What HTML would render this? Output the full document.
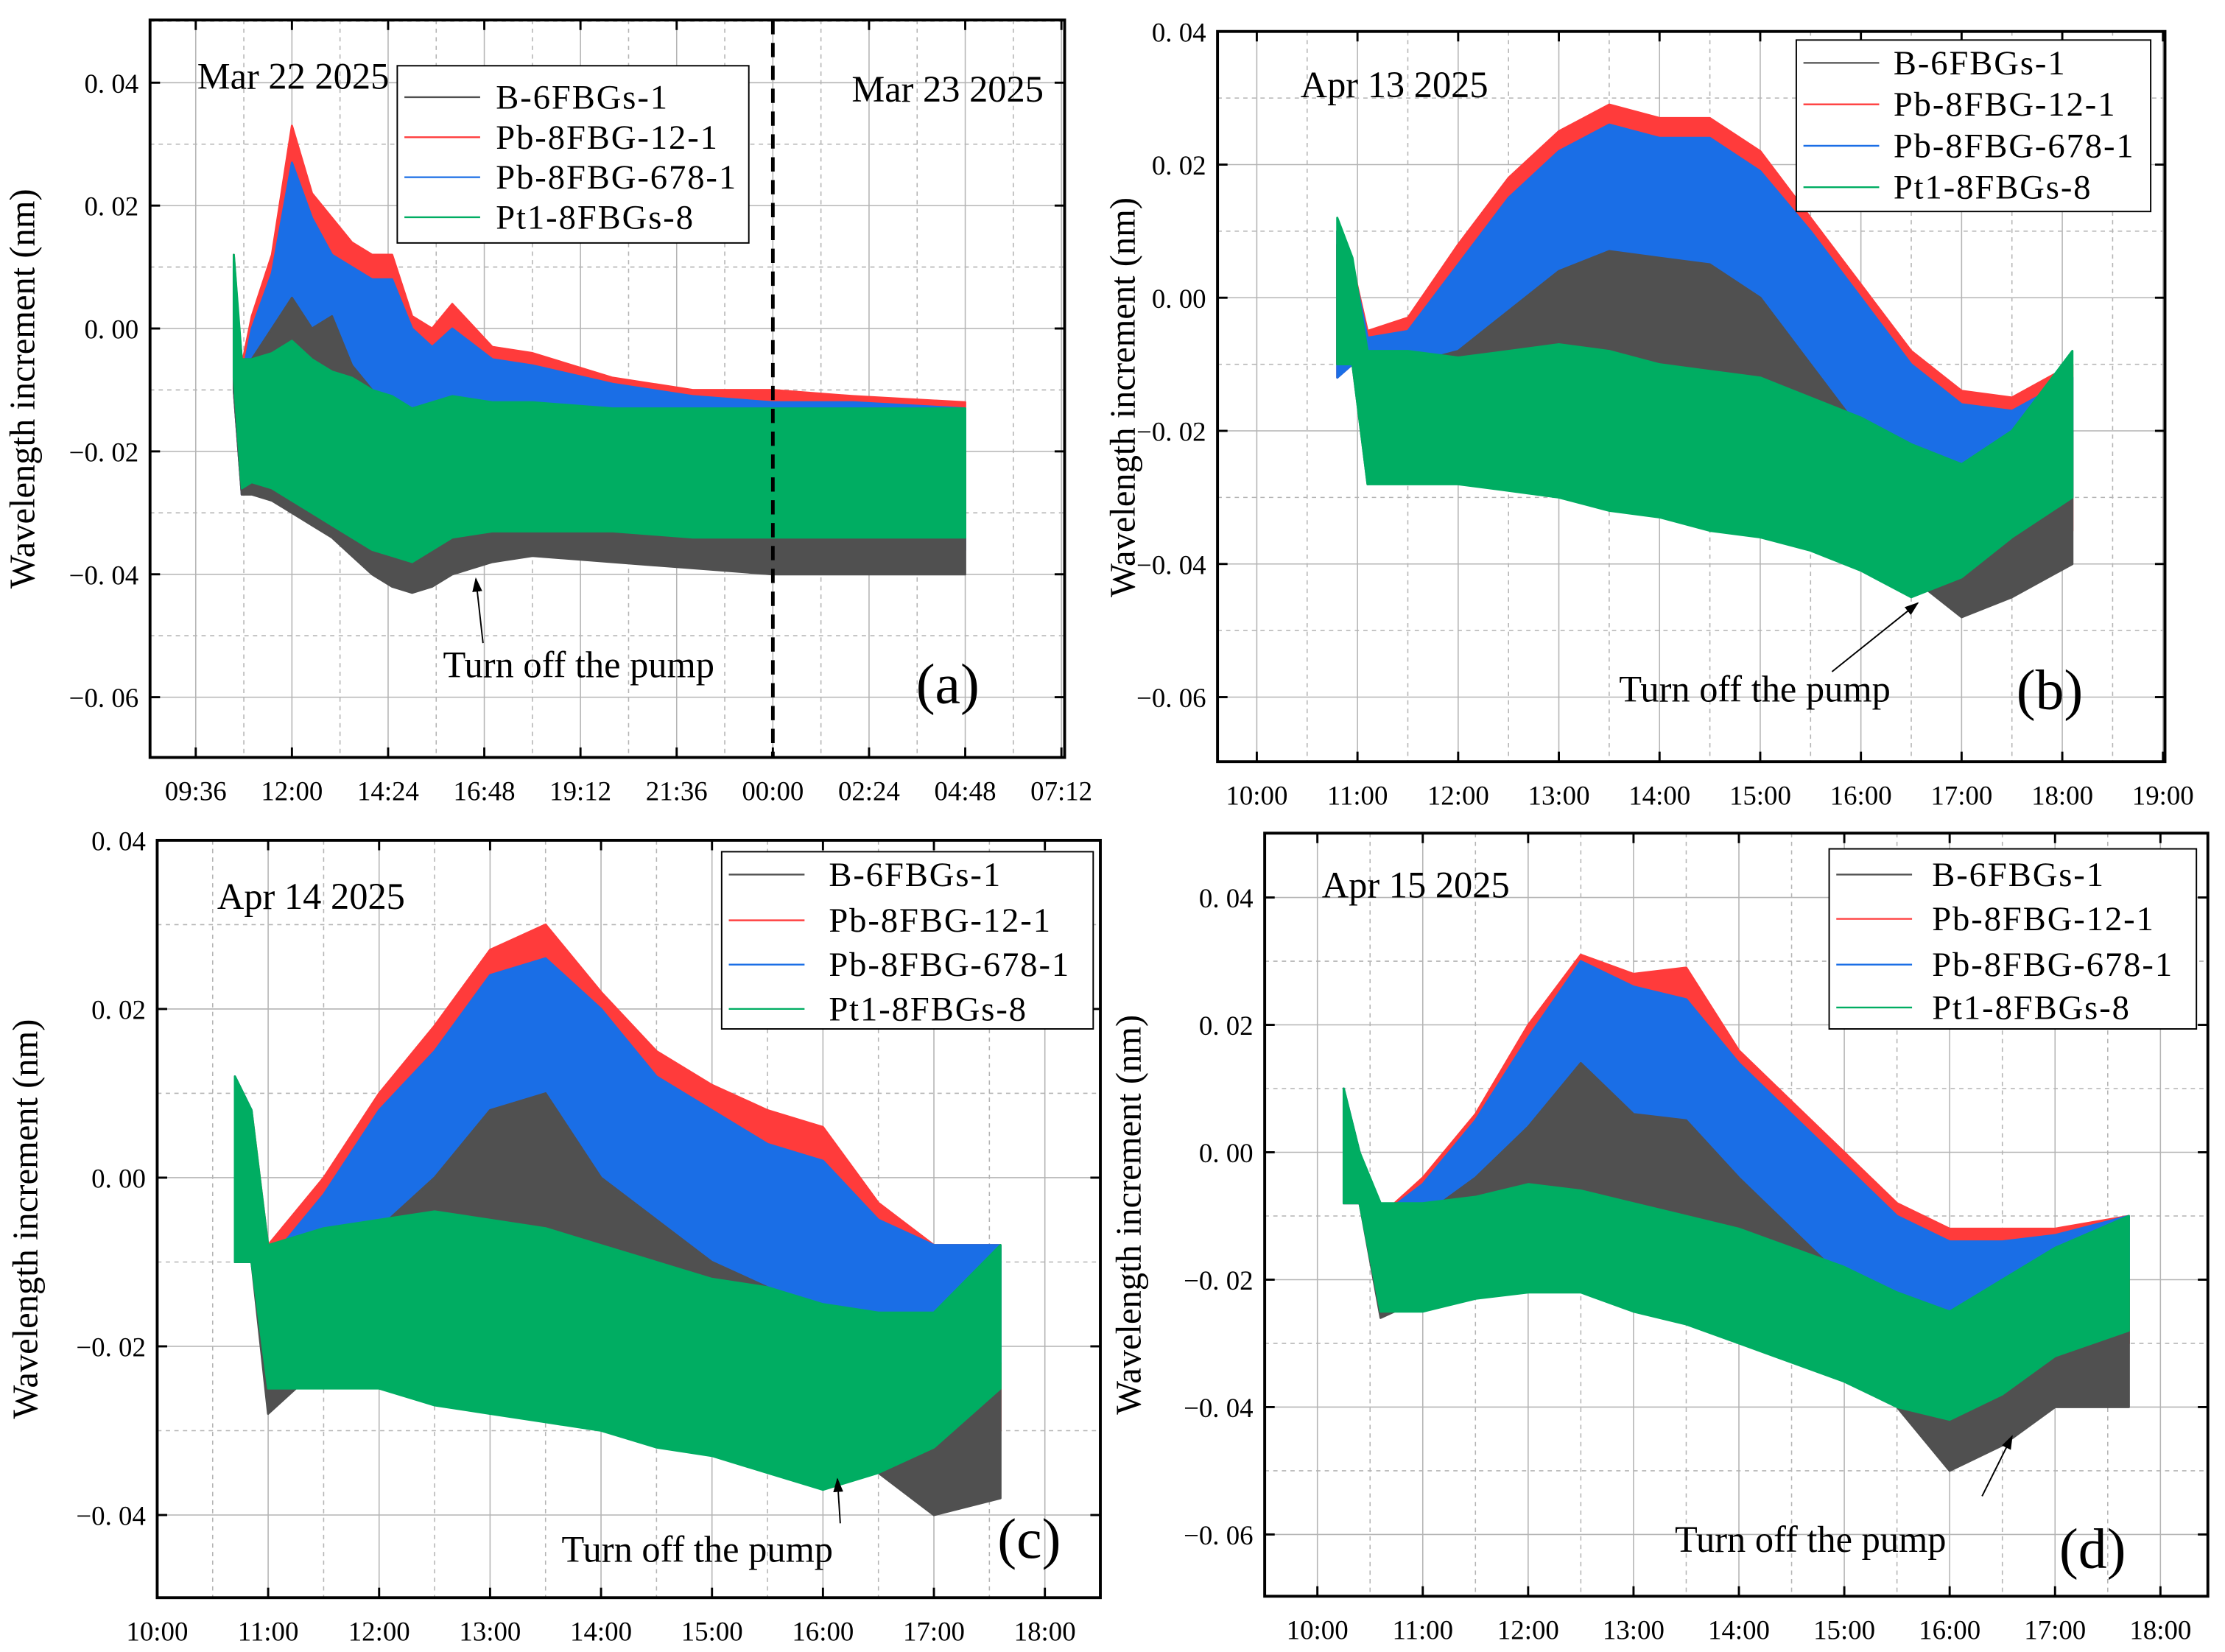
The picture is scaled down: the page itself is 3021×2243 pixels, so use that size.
<!DOCTYPE html>
<html><head><meta charset="utf-8">
<style>
html,body{margin:0;padding:0;background:#fff;}
svg{display:block;}
text{font-family:"Liberation Serif",serif;fill:#000;}
.tick{font-size:19px;}
</style></head>
<body>
<svg id="fig" width="3021" height="2243" viewBox="0 0 1557 1156" xmlns="http://www.w3.org/2000/svg"></svg>
<script>
// ---------- DATA ----------
const seriesNames = ["B-6FBGs-1","Pb-8FBG-12-1","Pb-8FBG-678-1","Pt1-8FBGs-8"];
const seriesColors = ["#505050","#ff3b3b","#1a6ee6","#00ad62"];
const drawOrder = [1,2,0,3];

// Panel (a) hours since Mar 22 00:00
const aTimes = [10.55,10.75,11,11.5,12,12.5,13,13.5,14,14.5,15,15.5,16,17,18,20,22,24,26,28.8];
const aBlackU = [0.01,-0.005,-0.005,0.0,0.005,0.0,0.002,-0.006,-0.01,-0.012,-0.015,-0.015,-0.017,-0.018,-0.018,-0.02,-0.02,-0.02,-0.02,-0.02];
const aBlackL = [-0.01,-0.027,-0.027,-0.028,-0.03,-0.032,-0.034,-0.037,-0.04,-0.042,-0.043,-0.042,-0.04,-0.038,-0.037,-0.038,-0.039,-0.04,-0.04,-0.04];
const aRedU = [0.012,-0.006,0.002,0.012,0.033,0.022,0.018,0.014,0.012,0.012,0.002,0.0,0.004,-0.003,-0.004,-0.008,-0.01,-0.01,-0.011,-0.012];
const aRedL = [-0.01,-0.027,-0.025,-0.025,-0.024,-0.026,-0.027,-0.028,-0.03,-0.032,-0.033,-0.034,-0.034,-0.033,-0.032,-0.033,-0.034,-0.035,-0.035,-0.036];
const aBlueU = [0.011,-0.008,0.0,0.009,0.027,0.018,0.012,0.01,0.008,0.008,0.0,-0.003,0.0,-0.005,-0.006,-0.009,-0.011,-0.012,-0.012,-0.013];
const aBlueL = [-0.01,-0.027,-0.025,-0.025,-0.024,-0.026,-0.027,-0.028,-0.03,-0.032,-0.033,-0.034,-0.034,-0.033,-0.032,-0.033,-0.034,-0.035,-0.035,-0.036];
const aGreenU = [0.012,-0.005,-0.005,-0.004,-0.002,-0.005,-0.007,-0.008,-0.01,-0.011,-0.013,-0.012,-0.011,-0.012,-0.012,-0.013,-0.013,-0.013,-0.013,-0.013];
const aGreenL = [-0.008,-0.026,-0.025,-0.026,-0.028,-0.03,-0.032,-0.034,-0.036,-0.037,-0.038,-0.036,-0.034,-0.033,-0.033,-0.033,-0.034,-0.034,-0.034,-0.034];

// Panel (b)
const bTimes = [10.8,10.95,11.1,11.5,12,12.5,13,13.5,14,14.5,15,15.5,16,16.5,17,17.5,18.1];
const bBlackU = [0.008,0.004,-0.01,-0.01,-0.008,-0.002,0.004,0.007,0.006,0.005,0.0,-0.01,-0.02,-0.025,-0.027,-0.025,-0.02];
const bBlackL = [-0.01,-0.01,-0.028,-0.027,-0.025,-0.022,-0.02,-0.022,-0.022,-0.024,-0.026,-0.03,-0.036,-0.042,-0.048,-0.045,-0.04];
const bRedU = [0.01,0.005,-0.005,-0.003,0.008,0.018,0.025,0.029,0.027,0.027,0.022,0.012,0.002,-0.008,-0.014,-0.015,-0.01];
const bRedL = [-0.012,-0.01,-0.025,-0.022,-0.02,-0.018,-0.016,-0.016,-0.016,-0.018,-0.02,-0.022,-0.025,-0.028,-0.03,-0.032,-0.035];
const bBlueU = [0.01,0.005,-0.006,-0.005,0.005,0.015,0.022,0.026,0.024,0.024,0.019,0.01,0.0,-0.01,-0.016,-0.017,-0.012];
const bBlueL = [-0.012,-0.01,-0.025,-0.022,-0.02,-0.018,-0.016,-0.016,-0.016,-0.018,-0.02,-0.022,-0.025,-0.028,-0.03,-0.031,-0.03];
const bGreenU = [0.012,0.006,-0.008,-0.008,-0.009,-0.008,-0.007,-0.008,-0.01,-0.011,-0.012,-0.015,-0.018,-0.022,-0.025,-0.02,-0.008];
const bGreenL = [-0.01,-0.01,-0.028,-0.028,-0.028,-0.029,-0.03,-0.032,-0.033,-0.035,-0.036,-0.038,-0.041,-0.045,-0.042,-0.036,-0.03];

// Panel (c)
const cTimes = [10.7,10.85,11,11.5,12,12.5,13,13.5,14,14.5,15,15.5,16,16.5,17,17.6];
const cBlackU = [0.01,0.005,-0.015,-0.012,-0.006,0.0,0.008,0.01,0.0,-0.005,-0.01,-0.013,-0.016,-0.02,-0.022,-0.022];
const cBlackL = [-0.01,-0.01,-0.028,-0.022,-0.017,-0.012,-0.01,-0.012,-0.018,-0.022,-0.026,-0.028,-0.031,-0.035,-0.04,-0.038];
const cRedU = [0.012,0.008,-0.008,0.0,0.01,0.018,0.027,0.03,0.022,0.015,0.011,0.008,0.006,-0.003,-0.008,-0.008];
const cRedL = [-0.01,-0.01,-0.024,-0.012,-0.01,-0.008,-0.006,-0.008,-0.01,-0.012,-0.015,-0.017,-0.02,-0.022,-0.024,-0.03];
const cBlueU = [0.012,0.008,-0.01,-0.002,0.008,0.015,0.024,0.026,0.02,0.012,0.008,0.004,0.002,-0.005,-0.008,-0.008];
const cBlueL = [-0.01,-0.01,-0.024,-0.012,-0.01,-0.008,-0.006,-0.008,-0.01,-0.012,-0.015,-0.017,-0.02,-0.022,-0.022,-0.022];
const cGreenU = [0.012,0.008,-0.008,-0.006,-0.005,-0.004,-0.005,-0.006,-0.008,-0.01,-0.012,-0.013,-0.015,-0.016,-0.016,-0.008];
const cGreenL = [-0.01,-0.01,-0.025,-0.025,-0.025,-0.027,-0.028,-0.029,-0.03,-0.032,-0.033,-0.035,-0.037,-0.035,-0.032,-0.025];

// Panel (d)
const dTimes = [10.25,10.4,10.6,11,11.5,12,12.5,13,13.5,14,14.5,15,15.5,16,16.5,17,17.7];
const dBlackU = [0.008,0.0,-0.01,-0.01,-0.004,0.004,0.014,0.006,0.005,-0.004,-0.012,-0.02,-0.026,-0.03,-0.028,-0.025,-0.02];
const dBlackL = [-0.008,-0.008,-0.026,-0.023,-0.02,-0.015,-0.008,-0.012,-0.015,-0.02,-0.025,-0.031,-0.04,-0.05,-0.046,-0.04,-0.04];
const dRedU = [0.01,0.0,-0.01,-0.004,0.006,0.02,0.031,0.028,0.029,0.016,0.008,0.0,-0.008,-0.012,-0.012,-0.012,-0.01];
const dRedL = [-0.008,-0.008,-0.025,-0.02,-0.014,-0.01,-0.008,-0.01,-0.012,-0.014,-0.016,-0.018,-0.022,-0.025,-0.025,-0.028,-0.03];
const dBlueU = [0.01,0.0,-0.01,-0.005,0.005,0.018,0.03,0.026,0.024,0.014,0.006,-0.002,-0.01,-0.014,-0.014,-0.013,-0.01];
const dBlueL = [-0.008,-0.008,-0.025,-0.02,-0.014,-0.01,-0.008,-0.01,-0.012,-0.014,-0.016,-0.018,-0.022,-0.025,-0.025,-0.025,-0.02];
const dGreenU = [0.01,0.0,-0.008,-0.008,-0.007,-0.005,-0.006,-0.008,-0.01,-0.012,-0.015,-0.018,-0.022,-0.025,-0.02,-0.015,-0.01];
const dGreenL = [-0.008,-0.008,-0.025,-0.025,-0.023,-0.022,-0.022,-0.025,-0.027,-0.03,-0.033,-0.036,-0.04,-0.042,-0.038,-0.032,-0.028];

const aXTicks = [9.6,12,14.4,16.8,19.2,21.6,24,26.4,28.8,31.2];
const aXLabels = ["09:36","12:00","14:24","16:48","19:12","21:36","00:00","02:24","04:48","07:12"];
const hourTicks = [10,11,12,13,14,15,16,17,18,19];
const hourLabels = ["10:00","11:00","12:00","13:00","14:00","15:00","16:00","17:00","18:00","19:00"];
const yTicksA = [0.04,0.02,0.0,-0.02,-0.04,-0.06];
const yTicksC = [0.04,0.02,0.0,-0.02,-0.04];

// ---------- DRAWING ----------
const NS="http://www.w3.org/2000/svg";
const svg=document.getElementById('fig');
function mk(tag,attrs,parent){const e=document.createElementNS(NS,tag);for(const k in attrs)e.setAttribute(k,attrs[k]);(parent||svg).appendChild(e);return e;}

const panels=[
 {id:'a',box:[105,14,745,530],x0:8.46,x1:31.28,y0:-0.0698,y1:0.0502,xt:aXTicks,xl:aXLabels,yt:yTicksA,xMinorStep:1.2,
  t:aTimes,d:[[aBlackU,aBlackL],[aRedU,aRedL],[aBlueU,aBlueL],[aGreenU,aGreenL]],
  leg:[278,46,524,170],legY:[68,96,124,152],legTx:347,date:[138,62,"Mar 22 2025"],
  pump:[310,474],arrow:[338,450,333,405],lab:[641,492,"(a)"],ylab:[24,272],extra:'a'},
 {id:'b',box:[852,22,1515,533],x0:9.61,x1:19.02,y0:-0.0697,y1:0.04,xt:hourTicks,xl:hourLabels,yt:yTicksA,xMinorStep:0.5,
  t:bTimes,d:[[bBlackU,bBlackL],[bRedU,bRedL],[bBlueU,bBlueL],[bGreenU,bGreenL]],
  leg:[1257,28,1505,148],legY:[44,73,102,131],legTx:1325,date:[910,68,"Apr 13 2025"],
  pump:[1133,491],arrow:[1282,470,1342,422],lab:[1411,496,"(b)"],ylab:[794,278]},
 {id:'c',box:[110,588,770,1118],x0:10,x1:18.5,y0:-0.0498,y1:0.04,xt:hourTicks.slice(0,9),xl:hourLabels.slice(0,9),yt:yTicksC,xMinorStep:0.5,
  t:cTimes,d:[[cBlackU,cBlackL],[cRedU,cRedL],[cBlueU,cBlueL],[cGreenU,cGreenL]],
  leg:[505,596,765,720],legY:[612,644,675,706],legTx:580,date:[152,636,"Apr 14 2025"],
  pump:[393,1093],arrow:[588,1066,586,1035],lab:[698,1090,"(c)"],ylab:[26,853]},
 {id:'d',box:[885,583,1545,1117],x0:9.5,x1:18.45,y0:-0.0697,y1:0.0501,xt:hourTicks.slice(0,9),xl:hourLabels.slice(0,9),yt:yTicksA,xMinorStep:0.5,
  t:dTimes,d:[[dBlackU,dBlackL],[dRedU,dRedL],[dBlueU,dBlueL],[dGreenU,dGreenL]],
  leg:[1280,594,1537,720],legY:[612,643,675,705],legTx:1352,date:[925,628,"Apr 15 2025"],
  pump:[1172,1086],arrow:[1387,1047,1408,1005],lab:[1441,1097,"(d)"],ylab:[798,850]}
];

mk('defs',{}).innerHTML='<marker id="ah" markerWidth="10" markerHeight="14" refX="9" refY="5" orient="auto" markerUnits="userSpaceOnUse"><path d="M0,1.5 L10,5 L0,8.5 Z" fill="#000"/></marker>';

panels.forEach(p=>{
 const [L,T,R,B]=p.box;
 const g=mk('g',{});
 
 
 const sx=v=>L+(v-p.x0)/(p.x1-p.x0)*(R-L);
 const sy=v=>B-(v-p.y0)/(p.y1-p.y0)*(B-T);
 const cp=mk('clipPath',{id:'clip'+p.id},g);mk('rect',{x:L,y:T,width:R-L,height:B-T},cp);
 const grid=mk('g',{},g);
 
 
 for(let v=Math.ceil(p.y0*100)/100; v<=p.y1+1e-9; v+=0.01){
  const major=Math.abs(Math.round(v*100))%2===0;
  mk('line',{x1:L,x2:R,y1:sy(v),y2:sy(v),stroke:'#b4b4b4','stroke-width':0.8,'stroke-dasharray':major?'':'3,3'},grid);
 }
 const xs=p.xt[0], st=p.xMinorStep;
 for(let k=-2;k<40;k++){
  const v=xs+k*st; if(v<=p.x0||v>=p.x1) continue;
  const major=k%2===0;
  mk('line',{x1:sx(v),x2:sx(v),y1:T,y2:B,stroke:'#b4b4b4','stroke-width':0.8,'stroke-dasharray':major?'':'3,3'},grid);
 }
 const ser=mk('g',{'clip-path':'url(#clip'+p.id+')'},g);
 drawOrder.forEach(si=>{
  const [U,Lo]=p.d[si];
  let pts=p.t.map((t,i)=>sx(t).toFixed(1)+','+sy(U[i]).toFixed(1));
  for(let i=p.t.length-1;i>=0;i--) pts.push(sx(p.t[i]).toFixed(1)+','+sy(Lo[i]).toFixed(1));
  const poly=mk('polygon',{points:pts.join(' '),fill:seriesColors[si],stroke:seriesColors[si],'stroke-width':1.5,'stroke-linejoin':'round'},ser);
  
  
 });
 if(p.extra==='a'){
  const dl=mk('line',{x1:sx(24),x2:sx(24),y1:T,y2:B,stroke:'#000','stroke-width':2.5,'stroke-dasharray':'10,6'},g);
  
  
  const t2=mk('text',{x:596,y:71,'font-size':26},g);t2.textContent='Mar 23 2025';
  
  
 }
 const fr=mk('rect',{x:L,y:T,width:R-L,height:B-T,fill:'none',stroke:'#000','stroke-width':2},g);
 
 
 p.yt.forEach(v=>{
  mk('line',{x1:L,x2:L+7,y1:sy(v),y2:sy(v),stroke:'#000','stroke-width':1.5},g);
  mk('line',{x1:R,x2:R-7,y1:sy(v),y2:sy(v),stroke:'#000','stroke-width':1.5},g);
  const tx=mk('text',{x:L-8,y:sy(v)+7,'text-anchor':'end',class:'tick'},g);
  tx.textContent=(v<0?'\u2212':'')+Math.abs(v).toFixed(2).replace('.','. ');
  
  
 });
 p.xt.forEach((v,i)=>{
  mk('line',{x1:sx(v),x2:sx(v),y1:B,y2:B-7,stroke:'#000','stroke-width':1.5},g);
  mk('line',{x1:sx(v),x2:sx(v),y1:T,y2:T+7,stroke:'#000','stroke-width':1.5},g);
  const tx=mk('text',{x:sx(v),y:B+30,'text-anchor':'middle',class:'tick'},g);
  tx.textContent=p.xl[i];
  
  
 });
 const yl=mk('text',{x:p.ylab[0],y:p.ylab[1],'text-anchor':'middle','font-size':25,transform:`rotate(-90 ${p.ylab[0]} ${p.ylab[1]})`},g);
 yl.textContent='Wavelength  increment (nm)';
 
 
 const lg=mk('g',{},g);
 
 
 const [a,b,c,d]=p.leg;
 mk('rect',{x:a,y:b,width:c-a,height:d-b,fill:'#fff',stroke:'#000','stroke-width':1},lg);
 seriesNames.forEach((n,i)=>{
  const y=p.legY[i];
  mk('line',{x1:a+5,x2:a+58,y1:y,y2:y,stroke:seriesColors[i],'stroke-width':1.2},lg);
  const tx=mk('text',{x:p.legTx,y:y+8,'font-size':24,'letter-spacing':'1'},lg);
  tx.textContent=n;
  
  
 });
 const dt=mk('text',{x:p.date[0],y:p.date[1],'font-size':26},g);dt.textContent=p.date[2];
 
 
 const pt=mk('text',{x:p.pump[0],y:p.pump[1],'font-size':26},g);pt.textContent='Turn off the pump';
 
 
 const ar=mk('line',{x1:p.arrow[0],y1:p.arrow[1],x2:p.arrow[2],y2:p.arrow[3],stroke:'#000','stroke-width':1,'marker-end':'url(#ah)'},g);
 
 
 const lb=mk('text',{x:p.lab[0],y:p.lab[1],'font-size':40},g);lb.textContent=p.lab[2];
 
 
});
</script>
</body></html>
